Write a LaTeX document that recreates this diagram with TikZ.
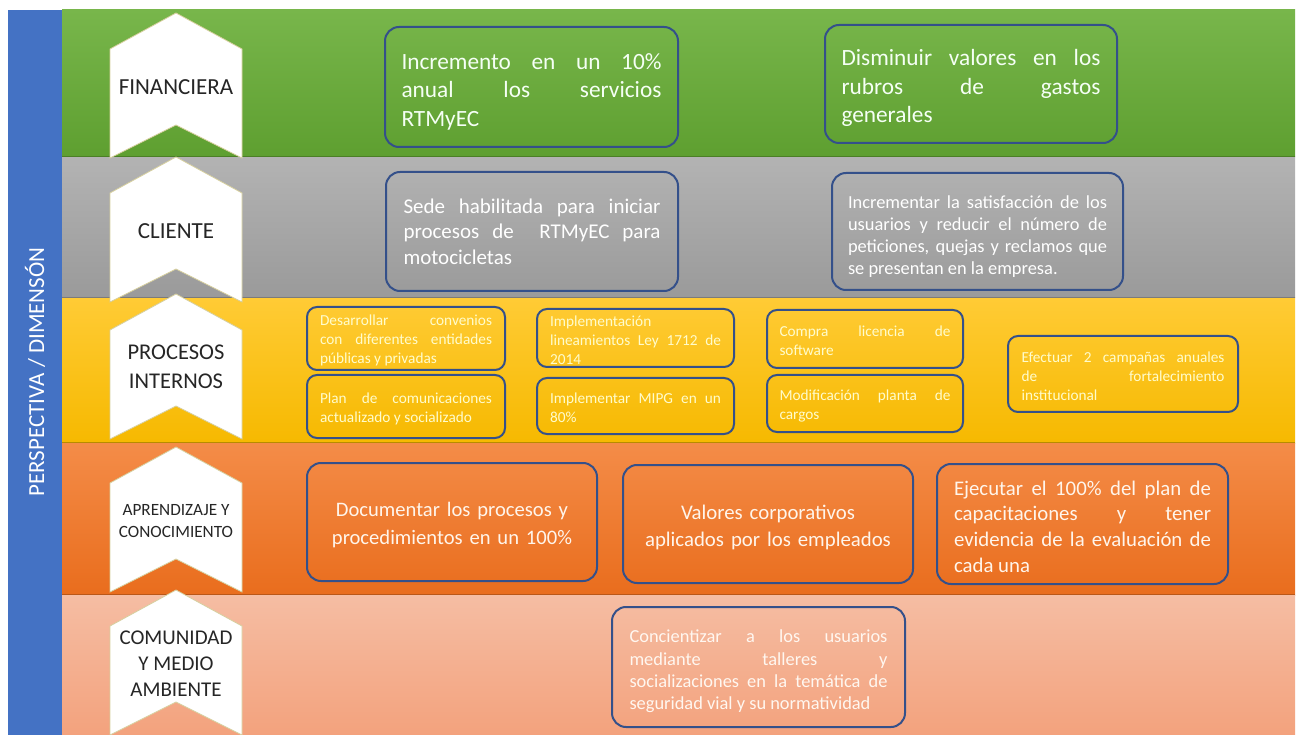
\documentclass[tikz,border=0pt]{standalone}
\usepackage{fontspec}
\setmainfont{Carlito}
\definecolor{bluebar}{HTML}{4472C4}
\definecolor{greenT}{HTML}{78B64B}
\definecolor{greenB}{HTML}{5E9F30}
\definecolor{grayT}{HTML}{B3B3B3}
\definecolor{grayB}{HTML}{9A9A9A}
\definecolor{yellowT}{HTML}{FFCB35}
\definecolor{yellowB}{HTML}{F6B900}
\definecolor{orangeT}{HTML}{F48C48}
\definecolor{orangeB}{HTML}{E96D1D}
\definecolor{salmonT}{HTML}{F5BDA3}
\definecolor{salmonB}{HTML}{F3A27D}
\definecolor{boxline}{HTML}{34508A}
\definecolor{chevline}{HTML}{D6CF9E}
\definecolor{labeltext}{HTML}{262626}
\newcommand\topstrut[1]{\rule{0pt}{#1}}
\tikzset{
  goal/.style={draw=boxline, line width=2pt, rounded corners=14pt, inner sep=0pt, align=justify, text=white},
  smallgoal/.style={goal, rounded corners=10pt, font=\fontsize{15.3}{19}\selectfont},
  chev/.style={fill=white, draw=chevline, line width=0.8pt},
  chevlabel/.style={text=labeltext, align=center, inner sep=0pt},
  bandline/.style={line width=1.2pt}
}
\newcommand\chevronat[1]{%
  \filldraw[chev] (176,#1) -- (242,{#1+36}) -- (242,{#1+145}) -- (176,{#1+112}) -- (110,{#1+145}) -- (110,{#1+36}) -- cycle;}
\begin{document}
\begin{tikzpicture}[x=1pt,y=-1pt]
\useasboundingbox (0,0) rectangle (1302,735);
\fill[white] (0,0) rectangle (1302,735);
% bands
\shade[top color=greenT, bottom color=greenB] (62,10) rectangle (1295,157);
\shade[top color=grayT, bottom color=grayB] (62,157) rectangle (1295,298);
\shade[top color=yellowT, bottom color=yellowB] (62,298) rectangle (1295,443);
\shade[top color=orangeT, bottom color=orangeB] (62,443) rectangle (1295,595);
\shade[top color=salmonT, bottom color=salmonB] (62,595) rectangle (1295,735);
\draw[bandline, draw=greenB!80!black] (62,156.5) -- (1295,156.5);
\draw[bandline, draw=grayB!80!black] (62,297.5) -- (1295,297.5);
\draw[bandline, draw=yellowB!75!black] (62,442.5) -- (1295,442.5);
\draw[bandline, draw=orangeB!80!black] (62,594.5) -- (1295,594.5);
% blue bar
\fill[bluebar] (8,10) rectangle (62,735);
\node[rotate=90, text=white, font=\fontsize{23}{26}\selectfont, inner sep=0pt] (persp) at (35,372) {PERSPECTIVA / DIMENSÓN};
% chevrons
\chevronat{13}
\chevronat{157}
\chevronat{294}
\chevronat{447}
\chevronat{590}
\node[chevlabel, font=\fontsize{23}{26}\selectfont] (fin) at (176,87) {FINANCIERA};
\node[chevlabel, font=\fontsize{23}{26}\selectfont] (cli) at (176,231) {CLIENTE};
\node[chevlabel, font=\fontsize{22.5}{29}\selectfont] (pro) at (176,367) {PROCESOS\\INTERNOS};
\node[chevlabel, font=\fontsize{17.2}{22}\selectfont] (apr) at (176,521) {APRENDIZAJE Y\\CONOCIMIENTO};
\node[chevlabel, font=\fontsize{21}{26}\selectfont] (com) at (176,664) {COMUNIDAD\\Y MEDIO\\AMBIENTE};
% financiera
\node[goal, minimum width=293pt, minimum height=120pt, text width=260pt, font=\fontsize{23.3}{28.5}\selectfont, text=green!4!white] (b1) at (531.5,87)
  {\topstrut{25pt}Incremento en un 10\%\linebreak anual los servicios\linebreak RTMyEC};
\node[goal, minimum width=292pt, minimum height=118pt, text width=259pt, font=\fontsize{23.3}{28.5}\selectfont, text=green!4!white] (b2) at (971,84)
  {\topstrut{25pt}Disminuir valores en los\linebreak rubros de gastos\linebreak generales};
% cliente
\node[goal, minimum width=292pt, minimum height=119pt, text width=257pt, font=\fontsize{21}{25.5}\selectfont] (b3) at (532,231.5)
  {Sede habilitada para iniciar\linebreak procesos de\ \ RTMyEC para\linebreak motocicletas};
\node[goal, minimum width=291pt, minimum height=117pt, text width=259pt, font=\fontsize{18.4}{22}\selectfont] (b4) at (977.5,231.5)
  {\topstrut{22.5pt}Incrementar la satisfacción de los\linebreak usuarios y reducir el número de\linebreak peticiones, quejas y reclamos que\linebreak se presentan en la empresa.};
% procesos internos
\node[smallgoal, minimum width=198pt, minimum height=63pt, text width=172pt, text=yellow!20!white] (b5) at (406,338.5)
  {\topstrut{15pt}Desarrollar convenios\linebreak con diferentes entidades\linebreak públicas y privadas};
\node[smallgoal, minimum width=198pt, minimum height=63pt, text width=172pt, text=yellow!20!white] (b6) at (406,406.5)
  {\topstrut{15pt}Plan de comunicaciones\linebreak actualizado y socializado};
\node[smallgoal, minimum width=197pt, minimum height=58pt, text width=171pt, text=yellow!20!white] (b7) at (635.5,338)
  {\topstrut{15pt}Implementación\linebreak lineamientos Ley 1712 de\linebreak 2014};
\node[smallgoal, minimum width=197pt, minimum height=56pt, text width=171pt, text=yellow!20!white] (b8) at (635.5,406)
  {\topstrut{15pt}Implementar MIPG en un\linebreak 80\%};
\node[smallgoal, minimum width=196pt, minimum height=58pt, text width=171pt, text=yellow!20!white] (b9) at (865,339)
  {\topstrut{15pt}Compra licencia de\linebreak software};
\node[smallgoal, minimum width=196pt, minimum height=57pt, text width=171pt, text=yellow!20!white] (b10) at (865,403.5)
  {\topstrut{15pt}Modificación planta de\linebreak cargos};
\node[smallgoal, minimum width=230pt, minimum height=76pt, text width=203pt, text=yellow!20!white] (b11) at (1123,374)
  {\topstrut{15pt}Efectuar 2 campañas anuales\linebreak de fortalecimiento\linebreak institucional};
% aprendizaje
\node[goal, minimum width=290pt, minimum height=118pt, text width=275pt, align=center, font=\fontsize{20.6}{28}\selectfont, text=orange!8!white] (b12) at (452,522)
  {\topstrut{21pt}Documentar los procesos y\\procedimientos en un 100\%};
\node[goal, minimum width=290pt, minimum height=118pt, text width=275pt, align=center, font=\fontsize{20.8}{27}\selectfont, text=orange!8!white] (b13) at (768,524)
  {\topstrut{21pt}Valores corporativos\\aplicados por los empleados};
\node[goal, minimum width=291pt, minimum height=120pt, text width=257pt, font=\fontsize{20.8}{25.7}\selectfont, text=orange!8!white] (b14) at (1082.5,524)
  {\topstrut{19.5pt}Ejecutar el 100\% del plan de\linebreak capacitaciones y tener\linebreak evidencia de la evaluación de\linebreak cada una};
% comunidad
\node[goal, minimum width=293pt, minimum height=120pt, text width=258pt, font=\fontsize{18.4}{22.3}\selectfont, text=orange!6!white] (b15) at (758.5,667)
  {\topstrut{21.5pt}Concientizar a los usuarios\linebreak mediante talleres y\linebreak socializaciones en la temática de\linebreak seguridad vial y su normatividad};
\end{tikzpicture}
\end{document}
